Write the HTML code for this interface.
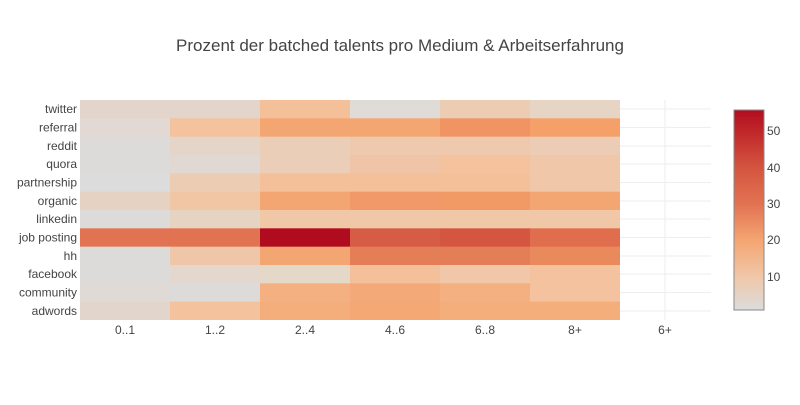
<!DOCTYPE html>
<html><head><meta charset="utf-8"><style>
body{margin:0;background:#fff;font-family:"Liberation Sans","DejaVu Sans",sans-serif}
</style></head><body>
<svg width="800" height="400" xmlns="http://www.w3.org/2000/svg" font-family="Liberation Sans, DejaVu Sans, sans-serif">
<defs><linearGradient id="cb" x1="0" y1="1" x2="0" y2="0">
<stop offset="0" stop-color="#dcdcdc"/>
<stop offset="0.16" stop-color="#f0c8aa"/>
<stop offset="0.345" stop-color="#f4a672"/>
<stop offset="0.527" stop-color="#e27352"/>
<stop offset="0.71" stop-color="#d45540"/>
<stop offset="0.89" stop-color="#c0282a"/>
<stop offset="1" stop-color="#b20c20"/>
</linearGradient></defs>
<text x="400" y="51" text-anchor="middle" font-size="17" fill="#444">Prozent der batched talents pro Medium &amp; Arbeitserfahrung</text>
<g stroke="#eee" stroke-width="1">
<line x1="665" y1="100" x2="665" y2="320"/>
<line x1="620" y1="109" x2="711" y2="109"/><line x1="620" y1="127.5" x2="711" y2="127.5"/><line x1="620" y1="146" x2="711" y2="146"/><line x1="620" y1="164" x2="711" y2="164"/><line x1="620" y1="182.5" x2="711" y2="182.5"/><line x1="620" y1="201" x2="711" y2="201"/><line x1="620" y1="219" x2="711" y2="219"/><line x1="620" y1="237.5" x2="711" y2="237.5"/><line x1="620" y1="256" x2="711" y2="256"/><line x1="620" y1="274" x2="711" y2="274"/><line x1="620" y1="292.5" x2="711" y2="292.5"/><line x1="620" y1="311" x2="711" y2="311"/>
</g>
<g>
<g transform="translate(0,100)"><rect x="80" width="90.5" height="18.9" fill="#e3d5cb"/><rect x="170" width="90.5" height="18.9" fill="#e3d5cb"/><rect x="260" width="90.5" height="18.9" fill="#f4c09a"/><rect x="350" width="90.5" height="18.9" fill="#dfdbd7"/><rect x="440" width="90.5" height="18.9" fill="#ecccb2"/><rect x="530" width="90" height="18.9" fill="#e6d4c4"/></g>
<g transform="translate(0,118.33)"><rect x="80" width="90.5" height="18.9" fill="#e2d8d4"/><rect x="170" width="90.5" height="18.9" fill="#f4c29c"/><rect x="260" width="90.5" height="18.9" fill="#f4a672"/><rect x="350" width="90.5" height="18.9" fill="#f4a672"/><rect x="440" width="90.5" height="18.9" fill="#f09464"/><rect x="530" width="90" height="18.9" fill="#f4a068"/></g>
<g transform="translate(0,136.67)"><rect x="80" width="90.5" height="18.9" fill="#dddbd9"/><rect x="170" width="90.5" height="18.9" fill="#e5d5c9"/><rect x="260" width="90.5" height="18.9" fill="#eaceb7"/><rect x="350" width="90.5" height="18.9" fill="#efc9ae"/><rect x="440" width="90.5" height="18.9" fill="#efc9ae"/><rect x="530" width="90" height="18.9" fill="#ecccb4"/></g>
<g transform="translate(0,155)"><rect x="80" width="90.5" height="18.9" fill="#dddbd9"/><rect x="170" width="90.5" height="18.9" fill="#e0d9d3"/><rect x="260" width="90.5" height="18.9" fill="#eaceb7"/><rect x="350" width="90.5" height="18.9" fill="#efc4a7"/><rect x="440" width="90.5" height="18.9" fill="#f4c29c"/><rect x="530" width="90" height="18.9" fill="#f0c7a8"/></g>
<g transform="translate(0,173.33)"><rect x="80" width="90.5" height="18.9" fill="#dcdcdc"/><rect x="170" width="90.5" height="18.9" fill="#ecccb2"/><rect x="260" width="90.5" height="18.9" fill="#f4c09a"/><rect x="350" width="90.5" height="18.9" fill="#f4c09a"/><rect x="440" width="90.5" height="18.9" fill="#f4c09a"/><rect x="530" width="90" height="18.9" fill="#f0c7a8"/></g>
<g transform="translate(0,191.67)"><rect x="80" width="90.5" height="18.9" fill="#e6d2c2"/><rect x="170" width="90.5" height="18.9" fill="#f0c6a5"/><rect x="260" width="90.5" height="18.9" fill="#f4a672"/><rect x="350" width="90.5" height="18.9" fill="#f2996a"/><rect x="440" width="90.5" height="18.9" fill="#f29a66"/><rect x="530" width="90" height="18.9" fill="#f4a672"/></g>
<g transform="translate(0,210)"><rect x="80" width="90.5" height="18.9" fill="#dddbd9"/><rect x="170" width="90.5" height="18.9" fill="#e6d4c2"/><rect x="260" width="90.5" height="18.9" fill="#f0c8a8"/><rect x="350" width="90.5" height="18.9" fill="#f0c8a8"/><rect x="440" width="90.5" height="18.9" fill="#f0c8a8"/><rect x="530" width="90" height="18.9" fill="#f0c8a8"/></g>
<g transform="translate(0,228.33)"><rect x="80" width="90.5" height="18.9" fill="#e27352"/><rect x="170" width="90.5" height="18.9" fill="#e27352"/><rect x="260" width="90.5" height="18.9" fill="#b00b1e"/><rect x="350" width="90.5" height="18.9" fill="#d65c46"/><rect x="440" width="90.5" height="18.9" fill="#d45640"/><rect x="530" width="90" height="18.9" fill="#e06e4e"/></g>
<g transform="translate(0,246.67)"><rect x="80" width="90.5" height="18.9" fill="#dddbd9"/><rect x="170" width="90.5" height="18.9" fill="#efc7a8"/><rect x="260" width="90.5" height="18.9" fill="#f4a672"/><rect x="350" width="90.5" height="18.9" fill="#e47e56"/><rect x="440" width="90.5" height="18.9" fill="#e47e56"/><rect x="530" width="90" height="18.9" fill="#e98a5c"/></g>
<g transform="translate(0,265)"><rect x="80" width="90.5" height="18.9" fill="#dddbd9"/><rect x="170" width="90.5" height="18.9" fill="#e4d8ce"/><rect x="260" width="90.5" height="18.9" fill="#e4d8c8"/><rect x="350" width="90.5" height="18.9" fill="#f4c09a"/><rect x="440" width="90.5" height="18.9" fill="#f0c7a8"/><rect x="530" width="90" height="18.9" fill="#f4c29e"/></g>
<g transform="translate(0,283.33)"><rect x="80" width="90.5" height="18.9" fill="#e0dad6"/><rect x="170" width="90.5" height="18.9" fill="#dddbd9"/><rect x="260" width="90.5" height="18.9" fill="#f4b080"/><rect x="350" width="90.5" height="18.9" fill="#f4aa78"/><rect x="440" width="90.5" height="18.9" fill="#f4b080"/><rect x="530" width="90" height="18.9" fill="#f4c29e"/></g>
<g transform="translate(0,301.67)"><rect x="80" width="90.5" height="18.33" fill="#e2d6cc"/><rect x="170" width="90.5" height="18.33" fill="#f4c29c"/><rect x="260" width="90.5" height="18.33" fill="#f4ae7c"/><rect x="350" width="90.5" height="18.33" fill="#f4a874"/><rect x="440" width="90.5" height="18.33" fill="#f4ae7c"/><rect x="530" width="90" height="18.33" fill="#f4ae7c"/></g>
</g>
<g font-size="12" fill="#444" text-anchor="end">
<text x="77" y="113">twitter</text><text x="77" y="131.5">referral</text><text x="77" y="150">reddit</text><text x="77" y="168">quora</text><text x="77" y="186.5">partnership</text><text x="77" y="205">organic</text><text x="77" y="223">linkedin</text><text x="77" y="241.5">job posting</text><text x="77" y="260">hh</text><text x="77" y="278">facebook</text><text x="77" y="296.5">community</text><text x="77" y="315">adwords</text>
</g>
<g font-size="12" fill="#444" text-anchor="middle">
<text x="125" y="334">0..1</text><text x="215" y="334">1..2</text><text x="305" y="334">2..4</text><text x="395" y="334">4..6</text><text x="485" y="334">6..8</text><text x="575" y="334">8+</text><text x="665" y="334">6+</text>
</g>
<rect x="734" y="110" width="30" height="200" fill="url(#cb)" stroke="#888" stroke-width="1"/>
<g font-size="12" fill="#444">
<text x="767" y="135">50</text><text x="767" y="172">40</text><text x="767" y="208">30</text><text x="767" y="244">20</text><text x="767" y="281">10</text>
</g>
</svg>
</body></html>
